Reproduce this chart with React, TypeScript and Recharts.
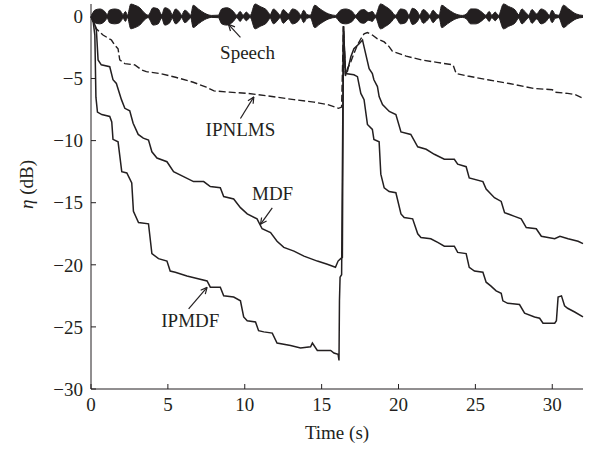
import React from "react";
import { ComposedChart, Line, Area, XAxis, YAxis, ReferenceLine, ReferenceDot, Label } from "recharts";

// [time (s), eta (dB)]
const ipnlms: [number, number][] = [
  [0, 0], [0.2, -0.5], [0.35, -1.0], [0.78, -1.5], [1.33, -1.9], [1.54, -2.3], [1.76, -2.6], [1.87, -3.5],
  [2.2, -3.8], [2.85, -3.9], [3.28, -4.3], [3.6, -4.45], [4.5, -4.6], [5.5, -4.9], [6.65, -5.3], [7.5, -5.7],
  [8.0, -6.0], [9.0, -6.1], [10.2, -6.2], [11.5, -6.4], [13.2, -6.7], [14.5, -6.9], [15.4, -7.1], [16.1, -7.4],
  [16.3, -7.3], [16.42, -0.8], [16.55, -4.8], [16.68, -4.2], [16.9, -3.65], [17.1, -3.0], [17.33, -2.3],
  [17.55, -1.8], [17.76, -1.4], [17.98, -1.3], [18.3, -1.5], [18.63, -1.8], [19.07, -2.05], [19.4, -2.45],
  [19.6, -2.8], [20.5, -3.2], [21.5, -3.5], [22.5, -3.7], [23.55, -3.9], [23.75, -4.6], [24.5, -4.8],
  [25.8, -5.1], [27.2, -5.4], [28.8, -5.8], [30.0, -5.9], [30.2, -6.1], [31.0, -6.2], [31.5, -6.3], [32, -6.6],
];

const mdf: [number, number][] = [
  [0, 0], [0.2, -0.5], [0.35, -1.1], [0.46, -3.5], [0.67, -3.9], [1.22, -4.05], [1.43, -5.1], [1.65, -5.4],
  [1.98, -6.7], [2.2, -7.4], [2.52, -7.6], [2.74, -8.6], [3.07, -9.5], [3.4, -9.8], [3.74, -9.95], [3.96, -10.9],
  [4.29, -11.4], [4.94, -11.7], [5.37, -12.5], [6.02, -12.9], [6.67, -13.3], [7.33, -13.3], [7.76, -13.7],
  [8.41, -13.8], [8.63, -14.5], [9.28, -14.7], [9.72, -15.4], [10.16, -15.9], [10.8, -16.3], [11.13, -17.1],
  [11.68, -17.4], [12.1, -18.1], [12.54, -18.6], [13.2, -18.9], [13.85, -19.3], [14.72, -19.7], [15.37, -19.95],
  [15.9, -20.2], [16.07, -19.7], [16.24, -19.5], [16.35, -19.4], [16.42, -0.8], [16.55, -4.6], [16.68, -4.4],
  [16.9, -3.25], [17.1, -2.6], [17.44, -2.2], [17.66, -1.9], [17.76, -2.45], [18.09, -4.2], [18.3, -4.6],
  [18.4, -5.1], [18.63, -5.65], [18.74, -6.45], [18.96, -7.1], [19.4, -7.65], [19.83, -7.9], [20.16, -9.3],
  [20.8, -9.5], [21.25, -10.5], [21.8, -10.7], [22.33, -11.1], [22.98, -11.5], [23.63, -11.5], [23.85, -11.9],
  [24.4, -12.1], [24.6, -13.0], [25.49, -13.3], [25.7, -13.9], [26.24, -14.6], [26.68, -14.9], [26.9, -15.8],
  [27.55, -16.1], [27.98, -16.3], [28.31, -17.0], [28.96, -17.1], [29.29, -17.7], [30.16, -17.9], [30.5, -17.7],
  [31.03, -17.9], [31.68, -18.1], [32, -18.3],
];

const ipmdf: [number, number][] = [
  [0, 0], [0.15, -0.5], [0.25, -1.5], [0.32, -6.5], [0.42, -7.7], [0.7, -7.9], [1.22, -8.05], [1.35, -8.5],
  [1.43, -9.9], [1.76, -10.1], [2.0, -12.5], [2.33, -12.6], [2.65, -13.4], [2.76, -15.7], [3.09, -16.6],
  [3.74, -16.7], [3.96, -19.1], [4.39, -19.5], [4.94, -19.7], [5.15, -20.5], [5.48, -20.6], [6.24, -20.9],
  [6.9, -21.1], [7.55, -21.3], [7.76, -21.8], [8.41, -21.8], [8.63, -22.5], [9.28, -22.6], [9.72, -22.9],
  [9.93, -24.2], [10.16, -24.5], [10.7, -24.6], [10.9, -25.3], [11.24, -25.4], [11.79, -25.5], [12.1, -26.3],
  [12.98, -26.5], [13.63, -26.7], [14.28, -26.6], [14.4, -26.3], [14.72, -26.9], [15.59, -26.9], [15.8, -27.1],
  [16.07, -27.2], [16.13, -27.7], [16.16, -22.9], [16.2, -21.0], [16.3, -20.8], [16.42, -0.8], [16.55, -4.6],
  [17.1, -4.7], [17.33, -4.85], [17.55, -6.2], [17.76, -6.7], [17.98, -8.7], [18.3, -9.1], [18.4, -9.9],
  [18.74, -10.1], [18.85, -12.7], [19.07, -13.8], [19.39, -14.1], [19.83, -14.2], [20.16, -15.9], [20.37, -16.2],
  [20.92, -16.3], [21.25, -17.5], [21.46, -17.8], [22.1, -17.9], [22.55, -18.2], [22.98, -18.5], [23.63, -18.5],
  [23.85, -19.0], [24.4, -19.1], [24.6, -20.2], [24.94, -20.5], [25.49, -20.6], [25.7, -21.4], [26.0, -21.7],
  [26.35, -22.1], [26.68, -22.3], [26.79, -22.9], [27.1, -23.1], [27.87, -23.2], [28.2, -23.9], [28.85, -24.2],
  [29.18, -24.3], [29.4, -24.7], [30.16, -24.7], [30.27, -24.5], [30.38, -22.6], [30.6, -22.5], [30.8, -23.3],
  [31.0, -23.5], [31.46, -23.8], [32, -24.2],
];

// speech envelope: [time (s), amplitude (dB around 0)]
const speech: [number, number][] = [
  [0, 0.08], [0.02, 0.1], [0.24, 0.5], [0.57, 0.6], [0.89, 0.4], [1.06, 0.15], [1.2, 0.5], [1.54, 0.6],
  [1.87, 0.5], [2.09, 0.15], [2.24, 0.4], [2.37, 0.1], [2.59, 1.0], [2.85, 0.9], [3.17, 0.7], [3.46, 0.3],
  [3.72, 0.1], [4.04, 0.7], [4.37, 0.6], [4.59, 0.15], [4.8, 0.7], [5.13, 0.5], [5.28, 0.15], [5.5, 0.6],
  [5.78, 0.3], [5.89, 0.1], [6.1, 0.5], [6.33, 0.3], [6.48, 0.1], [6.65, 0.9], [6.98, 0.6], [7.4, 0.25],
  [7.85, 0.08], [8.28, 0.1], [8.5, 0.6], [8.83, 0.7], [9.26, 0.4], [9.48, 0.1], [9.7, 0.4], [9.9, 0.1],
  [10.1, 0.35], [10.35, 0.08], [10.67, 1.0], [11.0, 0.8], [11.43, 0.5], [11.65, 0.15], [11.87, 0.6],
  [12.15, 0.3], [12.3, 0.1], [12.5, 0.55], [12.85, 0.2], [13.1, 0.6], [13.46, 0.4], [13.65, 0.1], [13.83, 0.5],
  [14.05, 0.15], [14.26, 0.1], [14.55, 0.9], [14.9, 0.6], [15.46, 0.2], [15.9, 0.08], [16.23, 0.5],
  [16.55, 0.6], [16.99, 0.4], [17.2, 0.1], [17.53, 0.5], [17.75, 0.55], [18.07, 0.3], [18.29, 0.4], [18.5, 0.1],
  [18.83, 1.0], [19.16, 0.8], [19.49, 0.5], [19.8, 0.1], [20.14, 0.6], [20.47, 0.5], [20.68, 0.1], [20.9, 0.65],
  [21.23, 0.4], [21.38, 0.1], [21.6, 0.55], [21.88, 0.3], [22.03, 0.1], [22.25, 0.5], [22.47, 0.2], [22.64, 0.1],
  [22.81, 0.9], [23.18, 0.6], [23.62, 0.25], [24.16, 0.08], [24.42, 0.2], [24.7, 0.6], [25.03, 0.6],
  [25.47, 0.3], [25.68, 0.1], [25.9, 0.4], [26.07, 0.1], [26.29, 0.35], [26.5, 0.08], [26.83, 1.0], [27.16, 0.8],
  [27.6, 0.5], [27.81, 0.15], [28.03, 0.6], [28.29, 0.3], [28.47, 0.1], [28.68, 0.55], [28.99, 0.2], [29.27, 0.6],
  [29.6, 0.4], [29.81, 0.1], [29.99, 0.5], [30.2, 0.15], [30.42, 0.1], [30.73, 0.9], [31.07, 0.6], [31.55, 0.2],
  [32, 0.08],
];

const xTicks = [0, 5, 10, 15, 20, 25, 30];
const yTicks = [-30, -25, -20, -15, -10, -5, 0];

// annotation text [label, t, dB] and arrows [tail, head]
const labels: [string, number, number][] = [
  ["Speech", 10.18, -2.88],
  ["IPNLMS", 9.72, -9.12],
  ["MDF", 11.81, -14.24],
  ["IPMDF", 6.46, -24.48],
];
const arrows: [[number, number], [number, number]][] = [
  [[9.72, -1.68], [8.94, -0.64]],
  [[9.72, -8.22], [10.59, -6.48]],
  [[11.79, -15.42], [11.02, -16.74]],
  [[6.35, -23.54], [7.55, -21.82]],
];

const FONT = "'Liberation Serif', 'Times New Roman', serif";
const INK = "#231f20";
const PX_PER_S = 15.37;
const PX_PER_DB = 12.53;

const toRows = (pts: [number, number][]) => pts.map(([t, v]) => ({ t, v }));

function arrowSegments(tail: [number, number], head: [number, number]) {
  const dx = (tail[0] - head[0]) * PX_PER_S;
  const dy = (tail[1] - head[1]) * PX_PER_DB;
  const len = Math.hypot(dx, dy);
  const ux = dx / len;
  const uy = dy / len;
  const arm = 7;
  const segs: { x: number; y: number }[][] = [
    [{ x: tail[0], y: tail[1] }, { x: head[0], y: head[1] }],
  ];
  for (const a of [0.45, -0.45]) {
    const rx = ux * Math.cos(a) - uy * Math.sin(a);
    const ry = ux * Math.sin(a) + uy * Math.cos(a);
    segs.push([
      { x: head[0], y: head[1] },
      { x: head[0] + (rx * arm) / PX_PER_S, y: head[1] + (ry * arm) / PX_PER_DB },
    ]);
  }
  return segs;
}

const fmtY = (v: number) => (v < 0 ? `\u2212${-v}` : `${v}`);

export default function App() {
  const speechRows = speech.map(([t, a]) => ({ t, range: [-a, a] }));
  return (
    <div style={{ position: "absolute", left: 0, top: 0, width: 595, height: 454, background: "#fff" }}>
      <ComposedChart width={595} height={454} margin={{ top: 4, right: 12, bottom: 0, left: 0 }}>
        <XAxis
          type="number"
          dataKey="t"
          domain={[0, 32]}
          ticks={xTicks}
          allowDuplicatedCategory={false}
          height={65}
          tickSize={-5}
          tickMargin={14}
          stroke={INK}
          tick={{ fill: INK, fontSize: 19, fontFamily: FONT }}
        >
          <Label value="Time (s)" position="insideBottom" offset={15} style={{ fill: INK, fontSize: 19, fontFamily: FONT }} />
        </XAxis>
        <YAxis
          type="number"
          domain={[-30, 0.8]}
          ticks={yTicks}
          width={91}
          tickSize={-5}
          tickMargin={13}
          tickFormatter={fmtY}
          stroke={INK}
          tick={{ fill: INK, fontSize: 19, fontFamily: FONT }}
        >
          <Label
            content={(p: any) => {
              const vb = p.viewBox || { x: 0, y: 0, height: 0 };
              const cx = vb.x + 26;
              const cy = vb.y + vb.height / 2 - 12;
              return (
                <text
                  x={cx}
                  y={cy}
                  transform={`rotate(-90 ${cx} ${cy})`}
                  textAnchor="middle"
                  dominantBaseline="central"
                  fill={INK}
                  fontSize={19}
                  fontFamily={FONT}
                >
                  <tspan fontStyle="italic">η</tspan> (dB)
                </text>
              );
            }}
          />
        </YAxis>
        <Area
          data={speechRows}
          dataKey="range"
          type="monotone"
          stroke={INK}
          strokeWidth={1}
          fill={INK}
          fillOpacity={1}
          isAnimationActive={false}
          dot={false}
          activeDot={false}
        />
        <Line data={toRows(ipnlms)} dataKey="v" type="linear" stroke={INK} strokeWidth={1.4} strokeDasharray="7 3" dot={false} activeDot={false} isAnimationActive={false} />
        <Line data={toRows(mdf)} dataKey="v" type="linear" stroke={INK} strokeWidth={1.5} dot={false} activeDot={false} isAnimationActive={false} />
        <Line data={toRows(ipmdf)} dataKey="v" type="linear" stroke={INK} strokeWidth={1.5} dot={false} activeDot={false} isAnimationActive={false} />
        {arrows.flatMap(([tail, head], i) =>
          arrowSegments(tail, head).map((seg, j) => (
            <ReferenceLine key={`a${i}-${j}`} segment={seg} stroke={INK} strokeWidth={1.2} ifOverflow="visible" />
          ))
        )}
        {labels.map(([text, t, v]) => (
          <ReferenceDot
            key={text}
            x={t}
            y={v}
            ifOverflow="visible"
            shape={(p: any) => (
              <text x={p.cx} y={p.cy} textAnchor="middle" dominantBaseline="central" fill={INK} fontSize={19} fontFamily={FONT}>
                {text}
              </text>
            )}
          />
        ))}
      </ComposedChart>
    </div>
  );
}
